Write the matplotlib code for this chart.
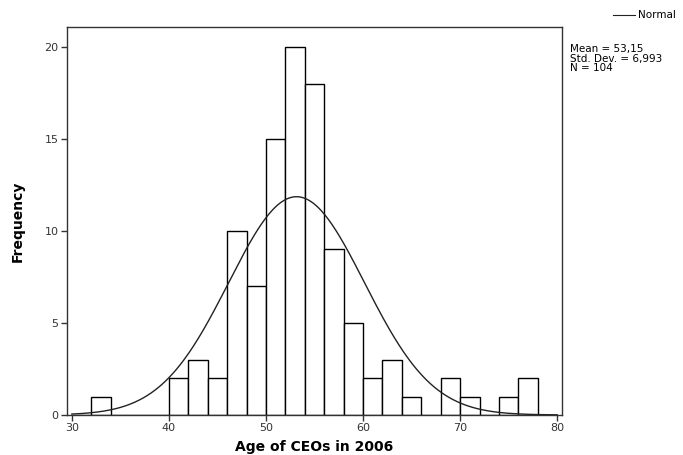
import numpy as np
import matplotlib
matplotlib.use("Agg")
import matplotlib.pyplot as plt

bin_edges = [30, 32, 34, 36, 38, 40, 42, 44, 46, 48, 50, 52, 54, 56, 58, 60, 62, 64, 66, 68, 70, 72, 74, 76, 78]
counts =    [0, 1, 0, 0, 0, 2, 3, 2, 10, 7, 15, 20, 18, 9, 5, 2, 3, 1, 0, 2, 1, 0, 1, 2]
mean = 53.15
std = 6.993
n = 104
x_ticks = [30, 40, 50, 60, 70, 80]
y_ticks = [0, 5, 10, 15, 20]

fig = plt.figure(figsize=(6.83, 4.55), dpi=100)
ax = fig.add_axes([0.098, 0.088, 0.725, 0.853])

lefts = np.array(bin_edges[:-1])
widths = np.diff(bin_edges)
ax.bar(lefts, counts, width=widths, align='edge', facecolor='white',
       edgecolor='black', linewidth=1.0)

xs = np.linspace(30, 80, 400)
pdf = n * 2 * np.exp(-0.5 * ((xs - mean) / std) ** 2) / (std * np.sqrt(2 * np.pi))
ax.plot(xs, pdf, color='#222222', linewidth=1.0)

ax.set_xlim(29.5, 80.5)
ax.set_ylim(0, 21.1)
ax.set_xticks(x_ticks)
ax.set_yticks(y_ticks)
ax.tick_params(labelsize=8, length=4, width=1, colors='#333333', pad=2)
for s in ax.spines.values():
    s.set_color('#333333')
    s.set_linewidth(1.0)

ax.set_xlabel('Age of CEOs in 2006', fontsize=10, fontweight='bold', labelpad=5)
ax.set_ylabel('Frequency', fontsize=10, fontweight='bold', labelpad=14)

# legend-like annotation
fig.add_artist(plt.Line2D([613/683, 635/683], [1 - 15/455, 1 - 15/455],
                          color='#222222', linewidth=0.8))
fig.text(638/683, 1 - 15/455, 'Normal', fontsize=7.5, va='center', ha='left')
fig.text(570/683, 1 - 44/455,
         'Mean = 53,15\nStd. Dev. = 6,993\nN = 104',
         fontsize=7.5, va='top', ha='left', linespacing=0.95)

fig.savefig('out.png', dpi=100)
